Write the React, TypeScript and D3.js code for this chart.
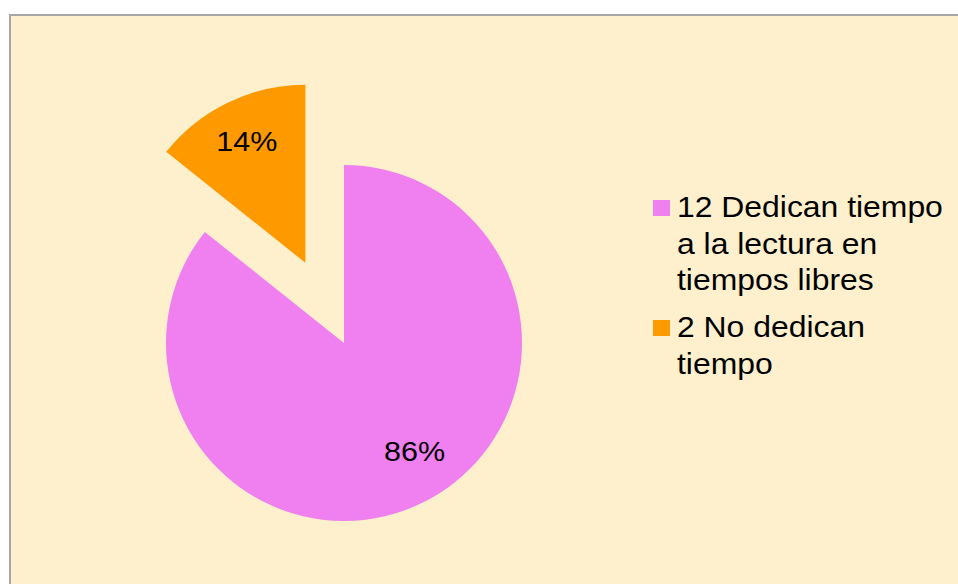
import React from "react";
import * as d3 from "d3";

const categories = ["12 Dedican tiempo a la lectura en tiempos libres", "2 No dedican tiempo"];
const values = [12, 2];
const colors = ["#F07FF0", "#FF9900"];
const legendLines = [["12 Dedican tiempo", "a la lectura en", "tiempos libres"], ["2 No dedican", "tiempo"]];
const explode = [0, 89];

const W = 958, H = 584;
const cx = 344, cy = 343, R = 178;

export default function App() {
  const total = d3.sum(values);
  const pie = d3.pie<number>().sort(null).value((d) => d);
  const arcs = pie(values);
  const arc = d3.arc<d3.PieArcDatum<number>>().innerRadius(0).outerRadius(R);
  const fmt = d3.format(".0%");

  return (
    <svg width={W} height={H} style={{ position: "absolute", left: 0, top: 0 }} fontFamily="'Liberation Sans', Arial, sans-serif">
      <rect x={0} y={0} width={W} height={H} fill="#ffffff" />
      <rect x={10} y={15} width={970} height={600} fill="#FFF0CD" stroke="#A6A6A6" strokeWidth={2} />
      {arcs.map((a, i) => {
        const mid = (a.startAngle + a.endAngle) / 2;
        const ox = Math.sin(mid) * explode[i];
        const oy = -Math.cos(mid) * explode[i];
        const lr = i === 0 ? 129 : 135;
        const lmid = i === 0 ? mid - 0.13 : mid;
        const lx = ox + Math.sin(lmid) * lr;
        const ly = oy - Math.cos(lmid) * lr;
        return (
          <g key={i} transform={`translate(${cx + ox},${cy + oy})`}>
            <path d={arc(a) || ""} fill={colors[i]} />
            <text
              transform={`translate(${lx - ox},${ly - oy + 10}) scale(1.11,1)`}
              textAnchor="middle"
              fontSize={27.5}
              fill="#000"
            >
              {fmt(values[i] / total)}
            </text>
          </g>
        );
      })}
      {categories.map((c, i) => {
        const baseY = i === 0 ? 217 : 337;
        const lines = legendLines[i];
        return (
          <g key={i}>
            <rect x={653} y={baseY - 17} width={17} height={16} fill={colors[i]} />
            {lines.map((ln, j) => (
              <text
                key={j}
                transform={`translate(677,${baseY + j * 36.5}) scale(1.1,1)`}
                fontSize={29}
                fill="#000"
              >
                {ln}
              </text>
            ))}
          </g>
        );
      })}
    </svg>
  );
}
